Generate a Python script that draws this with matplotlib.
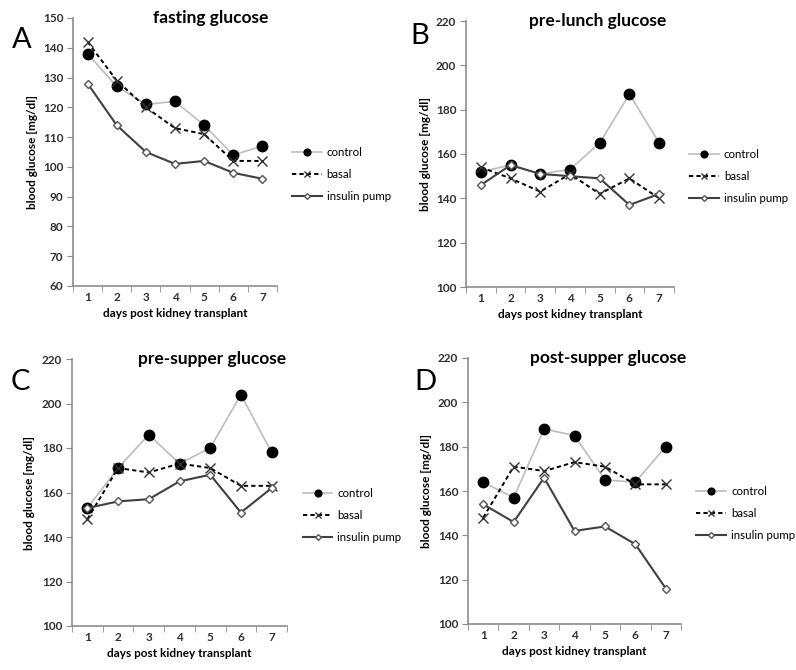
import numpy as np
import matplotlib.pyplot as plt

plt.rcParams['font.family'] = ['Lato', 'DejaVu Sans']

# Data
days = [1, 2, 3, 4, 5, 6, 7]
day_labels = ['1', '2', '3', '4', '5', '6', '7']

fast_control = [138, 127, 121, 122, 114, 104, 107]
fast_basal = [142, 129, 120, 113, 111, 102, 102]
fast_pump = [128, 114, 105, 101, 102, 98, 96]

lunch_control = [152, 155, 151, 153, 165, 187, 165]
lunch_basal = [154, 149, 143, 151, 142, 149, 140]
lunch_pump = [146, 155, 151, 150, 149, 137, 142]

supper_control = [153, 171, 186, 173, 180, 204, 178]
supper_basal = [148, 171, 169, 173, 171, 163, 163]
supper_pump = [153, 156, 157, 165, 168, 151, 162]

post_control = [164, 157, 188, 185, 165, 164, 180]
post_basal = [148, 171, 169, 173, 171, 163, 163]
post_pump = [154, 146, 166, 142, 144, 136, 116]

series_names = ['control', 'basal', 'insulin pump']

panels = [
    # letter, title, data, ylim, ystep, axes rect (px: left, right, top, bottom)
    ('A', 'fasting glucose', (fast_control, fast_basal, fast_pump), (60, 150), 10, (73, 277, 18, 286)),
    ('B', 'pre-lunch glucose', (lunch_control, lunch_basal, lunch_pump), (100, 220), 20, (466, 674, 21, 287)),
    ('C', 'pre-supper glucose', (supper_control, supper_basal, supper_pump), (100, 220), 20, (72, 287, 359, 626)),
    ('D', 'post-supper glucose', (post_control, post_basal, post_pump), (100, 220), 20, (468, 681, 358, 624)),
]
letter_pos = {'A': (22, 40), 'B': (420, 36), 'C': (20, 382), 'D': (425, 382)}
title_x = {'A': 0.676, 'B': 0.635, 'C': 0.65, 'D': 0.66}

W, H = 796, 670
fig = plt.figure(figsize=(W / 100, H / 100), dpi=100)

axis_grey = '#8c8c8c'
text_grey = '#303030'

for letter, title, (ctrl, basal, pump), ylim, ystep, (l, r, t, b) in panels:
    ax = fig.add_axes([l / W, (H - b) / H, (r - l) / W, (b - t) / H])
    x = np.arange(len(days))
    ax.plot(x, ctrl, color='#bdbdbd', lw=1.2, marker='o', ms=7.5,
            mfc='black', mec='black', label=series_names[0], zorder=3)
    ax.plot(x, basal, color='black', lw=1.4, ls=(0, (2.2, 1.6)), marker='x', ms=7,
            mec='#333333', mew=1.0, label=series_names[1], zorder=4)
    ax.plot(x, pump, color='#404040', lw=1.5, marker='D', ms=4.5,
            mfc='white', mec='#555555', mew=1.0, label=series_names[2], zorder=5)

    ax.set_xlim(-0.5, len(days) - 0.5)
    ax.set_ylim(*ylim)
    ax.set_xticks(x)
    ax.set_xticklabels(day_labels)
    ax.set_xticks(np.arange(-0.5, len(days)), minor=True)
    ax.tick_params(axis='x', which='major', length=0, pad=4)
    ax.tick_params(axis='x', which='minor', length=4, color=axis_grey, direction='out')
    ax.set_yticks(np.arange(ylim[0], ylim[1] + 1, ystep))
    ax.tick_params(axis='y', length=4, color=axis_grey, direction='out', pad=3)
    for lab in ax.get_xticklabels() + ax.get_yticklabels():
        lab.set_fontsize(8.5)
        lab.set_fontweight('bold')
        lab.set_color(text_grey)

    for side in ('top', 'right'):
        ax.spines[side].set_visible(False)
    for side in ('left', 'bottom'):
        ax.spines[side].set_color(axis_grey)
        ax.spines[side].set_linewidth(1.2)

    ax.set_xlabel('days post kidney transplant', fontsize=8.5, fontweight='bold',
                  color='black', labelpad=4)
    ax.set_ylabel('blood glucose [mg/dl]', fontsize=8.5, fontweight='bold', color='black')
    ax.yaxis.set_label_coords(-0.17, 0.5)

    ax.text(title_x[letter], 1.0, title, transform=ax.transAxes, ha='center', va='center',
            fontsize=12.5, fontweight='bold')
    lx, ly = letter_pos[letter]
    fig.text(lx / W, 1 - ly / H, letter, fontsize=21, ha='center', va='center')

    ax.legend(loc='center left', bbox_to_anchor=(1.04, 0.415), frameon=False,
              fontsize=8.3, handlelength=2.6, labelspacing=0.95, handletextpad=0.4,
              markerscale=0.65, borderaxespad=0.2)

fig.savefig('out.png', dpi=100)
